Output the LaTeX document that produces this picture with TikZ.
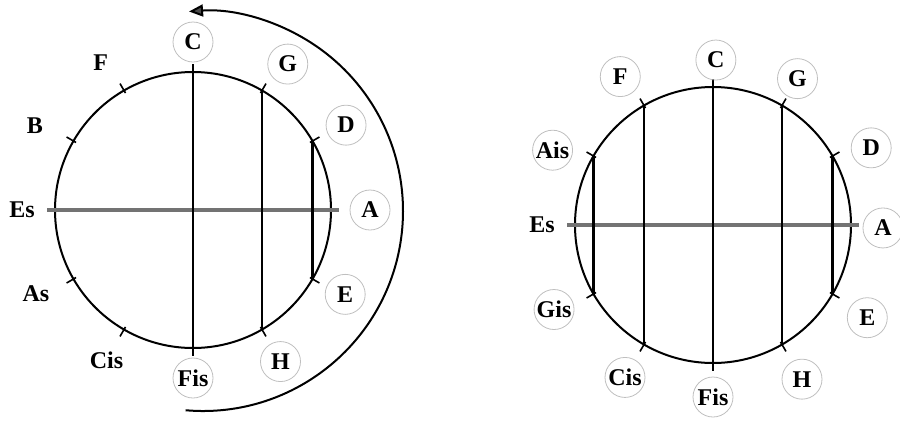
\documentclass[tikz,border=0pt]{standalone}
\usepackage{fontspec}
\setmainfont{Liberation Serif}
\usetikzlibrary{arrows.meta,calc}

\begin{document}
\begin{tikzpicture}[x=0.5pt,y=0.5pt,
   nt/.style={circle,draw=black!25,line width=0.4pt,minimum size=20pt,inner sep=0pt,font=\fontsize{12}{14}\selectfont\bfseries},
   np/.style={inner sep=0pt,font=\fontsize{12}{14}\selectfont\bfseries},
   rim/.style={line width=1pt},
   chord/.style={line width=1.1pt},
   axis/.style={line width=2pt,draw=black!55},
   tk/.style={line width=0.8pt}]
  \useasboundingbox (0,0) rectangle (900,420);
  % left circle
  \coordinate (L) at (193,210);
  \draw[rim] (L) circle[radius=138];
  \foreach \n/\a in {C/90,G/60,D/30,A/0,E/-30,H/-60,Fis/-90,Cis/-120,As/-150,Es/180,B/150,F/120}{
    \coordinate (L\n) at ($(L)+(\a:138)$);
    \coordinate (Lt\n) at ($(L)+(\a:146)$);
    \draw[tk] ($(L)+(\a:135)$) -- (Lt\n);
  }
  \draw[axis] (LtEs) -- (LtA);
  \draw[chord] (LtC) -- (LtFis);
  \draw[chord] (LG) -- (LH);
  \draw[chord] (LD) -- (LE);
  \foreach \n/\a/\r in {C/90/168,G/57/174,D/29/175,A/0/177,E/-29/174,H/-60/175,Fis/-90/168}
    \node[nt] (l\n) at ($(L)+(\a:\r)$) {\n};
  \foreach \n/\a/\r in {F/122/174,B/152/179,Es/180/171,As/-152/178,Cis/-120/173}
    \node[np] (l\n) at ($(L)+(\a:\r)$) {\n};
  % arrow round the left circle
  \coordinate (turn) at (203,209);
  \coordinate (turnS) at ($(turn)+(-95:200)$);
  \draw[line width=1pt,-{Triangle[length=7pt,width=6pt,fill=black!70]}] (turnS) arc[start angle=-95,end angle=94,radius=200];

  % right circle
  \coordinate (R) at (713,195);
  \draw[rim] (R) circle[radius=138];
  \foreach \n/\a in {C/90,G/60,D/30,A/0,E/-30,H/-60,Fis/-90,Cis/-120,Gis/-150,Es/180,Ais/150,F/120}{
    \coordinate (R\n) at ($(R)+(\a:138)$);
    \coordinate (Rt\n) at ($(R)+(\a:146)$);
    \draw[tk] ($(R)+(\a:135)$) -- (Rt\n);
  }
  \draw[axis] (RtEs) -- (RtA);
  \draw[chord] (RC) -- (RtFis);
  \draw[chord] (RF) -- (RCis);
  \draw[chord] (RG) -- (RH);
  \draw[chord] (RAis) -- (RGis);
  \draw[chord] (RD) -- (RE);
  \foreach \n/\a/\r in {C/89/165,F/122/175,G/60/169,D/26/176,A/-1/170,E/-31/180,H/-60/178,Fis/-90/172,Cis/-120/176,Gis/-152/180,Ais/155/177}
    \node[nt] (r\n) at ($(R)+(\a:\r)$) {\n};
  \node[np] (rEs) at ($(R)+(180:171)$) {Es};
\end{tikzpicture}
\end{document}
